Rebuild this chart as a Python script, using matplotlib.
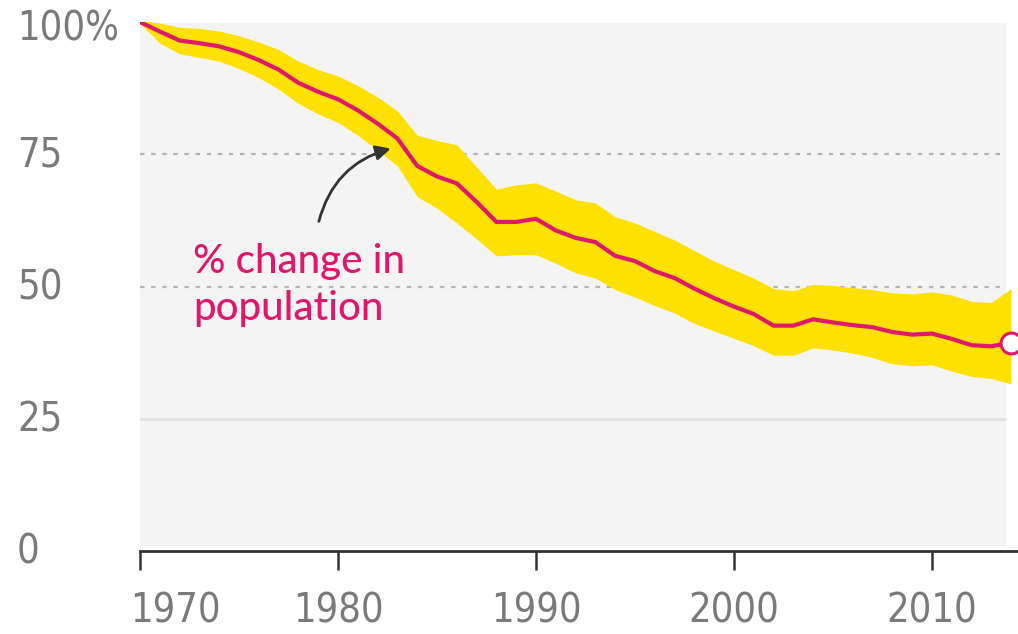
import matplotlib.pyplot as plt
from matplotlib import font_manager
from matplotlib.transforms import ScaledTranslation

# values (% of 1970 level)
years = list(range(1970, 2015))
pop_index = [100.0, 98.2, 96.5, 96.0, 95.4, 94.3, 92.8, 91.0, 88.5, 86.8,
             85.4, 83.3, 80.8, 78.0, 72.8, 70.8, 69.5, 66.0, 62.2, 62.2,
             62.8, 60.6, 59.2, 58.4, 55.8, 54.8, 52.9, 51.6, 49.6, 47.8,
             46.2, 44.8, 42.6, 42.6, 43.8, 43.2, 42.7, 42.3, 41.4, 40.9,
             41.1, 40.1, 38.9, 38.7, 39.4]
band_upper = [100.3, 99.8, 99.0, 98.8, 98.3, 97.4, 96.2, 94.8, 92.6, 91.0,
              89.8, 88.0, 85.8, 83.2, 78.6, 77.6, 76.8, 72.6, 68.4, 69.2,
              69.6, 68.0, 66.4, 65.8, 63.2, 62.0, 60.4, 58.8, 56.8, 54.8,
              53.2, 51.6, 49.6, 49.2, 50.4, 50.2, 49.8, 49.4, 48.8, 48.6,
              49.0, 48.4, 47.2, 47.0, 49.6]
band_lower = [99.7, 96.0, 94.0, 93.3, 92.6, 91.2, 89.5, 87.3, 84.6, 82.6,
              81.0, 78.6, 75.8, 72.8, 67.0, 64.8, 62.0, 59.0, 55.8, 56.0,
              56.0, 54.4, 52.6, 51.6, 49.4, 48.0, 46.4, 45.0, 43.0, 41.6,
              40.2, 38.8, 37.0, 37.0, 38.4, 38.0, 37.4, 36.6, 35.4, 35.0,
              35.2, 34.0, 33.0, 32.6, 31.6]

x_ticks = [1970, 1980, 1990, 2000, 2010]
y_ticks = [0, 25, 50, 75, 100]
y_labels = ["0", "25", "50", "75", "100%"]

PINK = "#e0186c"
YELLOW = "#ffe100"
GREY_TXT = "#7a7a7a"


def pick_narrow():
    # the original uses a narrow sans; take a condensed face if one is installed
    best = None
    for f in font_manager.fontManager.ttflist:
        narrow = ("Narrow" in f.name or "Condensed" in f.name
                  or f.stretch in ("condensed", "semi-condensed"))
        if not narrow or f.style != "normal" or f.weight not in (400, "normal", "regular"):
            continue
        if "Mono" in f.name or "Serif" in f.name:
            continue
        rank = 0 if "Liberation" in f.name else 1 if "Noto" in f.name else 2
        if best is None or rank < best[0]:
            best = (rank, f.fname)
    if best:
        return font_manager.FontProperties(fname=best[1]), True
    return font_manager.FontProperties(family="Open Sans"), False


tick_font, is_narrow = pick_narrow()
tick_size = 28.5 if is_narrow else 27

plt.rcParams["font.family"] = ["Open Sans", "DejaVu Sans"]

fig = plt.figure(figsize=(10.18, 6.34), dpi=100)
ax = fig.add_axes([140 / 1018, 1 - 551 / 634, 878 / 1018, 529 / 634])
ax.set_xlim(1970, 2014.35)
ax.set_ylim(0, 100)

# grey plot panel
ax.axvspan(1970, 2013.75, ymin=0.01, ymax=0.998, color="#f4f4f4", lw=0, zorder=0)

ax.axhline(75, color="#b5b5b5", lw=1.6, ls=(0, (2, 3)), xmax=0.985, zorder=1)
ax.axhline(50, color="#b5b5b5", lw=1.6, ls=(0, (2, 3)), xmax=0.985, zorder=1)
ax.axhline(25, color="#e2e2e2", lw=2, xmax=0.985, zorder=1)

ax.fill_between(years, band_lower, band_upper, color=YELLOW, lw=0, zorder=2)
ax.plot(years, pop_index, color=PINK, lw=3, zorder=3, solid_capstyle="round",
        solid_joinstyle="round")
ax.plot(years[-1], pop_index[-1], "o", ms=15, mfc="white", mec=PINK, mew=2.2,
        zorder=4, clip_on=False)

for s in ["top", "right", "left"]:
    ax.spines[s].set_visible(False)
ax.spines["bottom"].set_color("#333333")
ax.spines["bottom"].set_linewidth(2)

ax.set_xticks(x_ticks)
ax.set_xticklabels([str(y) for y in x_ticks])
ax.tick_params(axis="x", length=14, width=1.8, color="#333333", pad=15,
               labelcolor=GREY_TXT)
for lab in ax.get_xticklabels():
    lab.set_fontproperties(tick_font)
    lab.set_fontsize(tick_size)
# first year label sits just right of its tick, as in the original
first = ax.get_xticklabels()[0]
first.set_horizontalalignment("left")
first.set_transform(first.get_transform()
                    + ScaledTranslation(-0.10, 0, fig.dpi_scale_trans))

ax.set_yticks([])
for v, lab in zip(y_ticks, y_labels):
    yv = v - 1.5 if v == 100 else v - 0.3
    ax.text(-123 / 19.8 + 1970, yv, lab, ha="left", va="center",
            fontproperties=tick_font, fontsize=tick_size,
            color=GREY_TXT, clip_on=False)

ax.text(1972.7, 52.5, "% change in", color=PINK, fontsize=29,
        family=["Lato", "Open Sans"], fontweight=500, ha="left", va="baseline")
ax.text(1972.7, 43.6, "population", color=PINK, fontsize=29,
        family=["Lato", "Open Sans"], fontweight=500, ha="left", va="baseline")
ax.annotate("", xy=(1982.8, 76.2), xytext=(1979.0, 61.8),
            arrowprops=dict(arrowstyle="-|>", color="#333333", lw=2,
                            mutation_scale=22,
                            connectionstyle="arc3,rad=-0.3"),
            zorder=5)

fig.savefig("out.png", dpi=100)
